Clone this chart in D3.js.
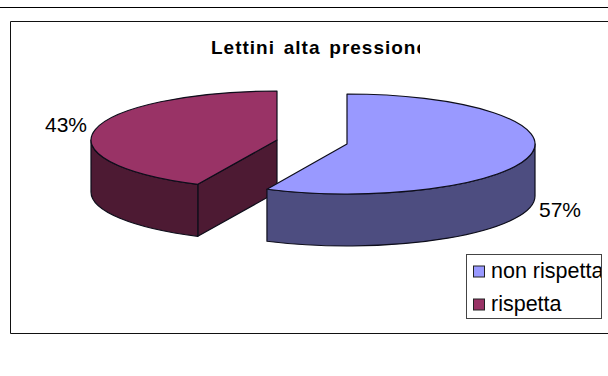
<!DOCTYPE html>
<html>
<head>
<meta charset="utf-8">
<script src="https://cdn.jsdelivr.net/npm/d3@7"></script>
<style>
html,body{margin:0;padding:0;background:#fff}
svg{display:block}
text{font-family:"Liberation Sans",Arial,sans-serif;fill:#000}
</style>
</head>
<body>
<script>
// Share of beds by compliance
const categories = ["non rispetta", "rispetta"];
const shares = [57, 43];
const percentLabels = ["57%", "43%"];
const topColors = ["#9999ff", "#993366"];
const sideColors = ["#4d4d80", "#4d1a33"];
const chartTitle = "Lettini alta pressione";

const W = 608, H = 376, DEPTH = 52;
// Each wedge is pulled apart, so each has its own ellipse
const ellipses = [
  {cx: 347, cy: 144, rx: 188, ry: 50},
  {cx: 277, cy: 140, rx: 186, ry: 49}
];

const svg = d3.select("body").append("svg").attr("width", W).attr("height", H);
const defs = svg.append("defs");
defs.append("clipPath").attr("id", "title-clip").append("rect")
  .attr("x", 150).attr("y", 30).attr("width", 270).attr("height", 40);
defs.append("clipPath").attr("id", "legend-clip").append("rect")
  .attr("x", 466).attr("y", 254).attr("width", 135).attr("height", 64);

// Page rules and chart frame
const frame = svg.append("g").attr("stroke", "#000").attr("fill", "none");
frame.append("line").attr("x1", 0).attr("x2", W).attr("y1", 7.5).attr("y2", 7.5);
frame.append("path").attr("d", `M${W},21.5H10.5V333.5H${W}`).attr("stroke", "#111");

svg.append("text").attr("x", 211).attr("y", 54)
  .attr("clip-path", "url(#title-clip)")
  .attr("font-size", 19).attr("font-weight", "bold")
  .attr("letter-spacing", "1px").attr("word-spacing", "2.5px")
  .text(chartTitle);

const pie = d3.pie().sort(null).value(d => d);
const slices = pie(shares);

// Maps a pie angle (0 at top, clockwise) onto a wedge's ellipse
const point = (e, a, dy = 0) => [e.cx + e.rx * Math.sin(a), e.cy - e.ry * Math.cos(a) + dy];
const arcTo = (e, a0, a1, sweep, dy = 0) => {
  const large = Math.abs(a1 - a0) > Math.PI ? 1 : 0;
  const [x, y] = point(e, a1, dy);
  return `A${e.rx},${e.ry} 0 ${large} ${sweep} ${x},${y}`;
};

// Draw the rear wedge first so the front one overlaps it
[1, 0].forEach(i => {
  const s = slices[i], e = ellipses[i];
  const g = svg.append("g").attr("stroke", "#0d0d1a").attr("stroke-width", 1.2)
    .attr("stroke-linejoin", "round");

  // Cut wall running from the ellipse centre to the start of the wedge
  if (i === 1) {
    const a = point(e, s.startAngle), b = point(e, s.startAngle, DEPTH);
    g.append("path").attr("fill", sideColors[i])
      .attr("d", `M${e.cx},${e.cy}L${a}L${b}L${e.cx},${e.cy + DEPTH}Z`);
  }

  // Rim: only the part of the arc that faces the viewer
  const from = Math.max(s.startAngle, Math.PI / 2);
  const to = Math.min(s.endAngle, Math.PI * 1.5);
  g.append("path").attr("fill", sideColors[i])
    .attr("d", `M${point(e, from)}` + arcTo(e, from, to, 1) +
      `L${point(e, to, DEPTH)}` + arcTo(e, to, from, 0, DEPTH) + "Z");

  // Top face
  g.append("path").attr("fill", topColors[i])
    .attr("d", `M${e.cx},${e.cy}L${point(e, s.startAngle)}` +
      arcTo(e, s.startAngle, s.endAngle, 1) + "Z");
});

// Percentage labels
const labelX = d3.scaleOrdinal().domain(categories).range([539, 45]);
const labelY = d3.scaleOrdinal().domain(categories).range([217, 132]);
svg.selectAll("text.pct").data(categories).join("text").attr("class", "pct")
  .attr("x", d => labelX(d)).attr("y", d => labelY(d))
  .attr("font-size", 21)
  .text((d, i) => percentLabels[i]);

// Legend
const legend = svg.append("g");
legend.append("rect").attr("x", 466.5).attr("y", 254.5).attr("width", 135).attr("height", 64)
  .attr("fill", "#fff").attr("stroke", "#444");
const rowY = d3.scalePoint().domain(categories).range([272, 305]);
legend.selectAll("rect.key").data(categories).join("rect").attr("class", "key")
  .attr("x", 473.5).attr("y", d => rowY(d) - 6).attr("width", 11).attr("height", 11)
  .attr("fill", (d, i) => topColors[i]).attr("stroke", "#222");
legend.selectAll("text.name").data(categories).join("text").attr("class", "name")
  .attr("clip-path", "url(#legend-clip)")
  .attr("x", 491).attr("y", d => rowY(d) + 6)
  .attr("font-size", 21.5)
  .text(d => d);
</script>
</body>
</html>
